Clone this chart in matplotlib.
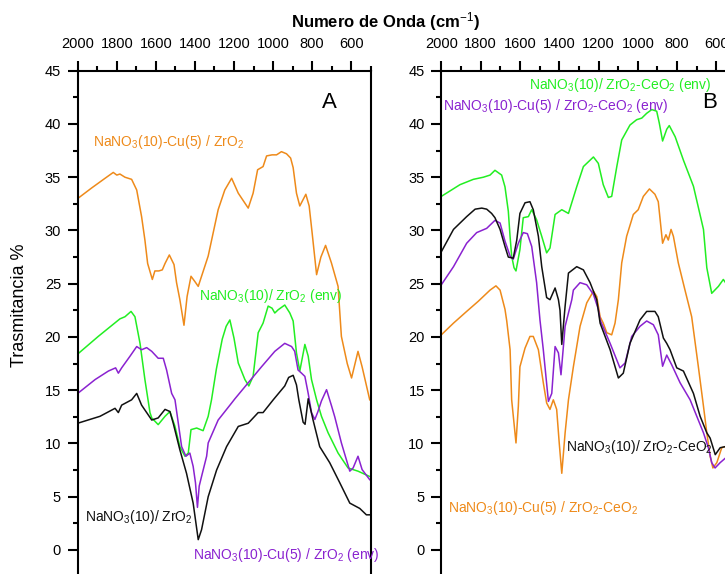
import numpy as np
import matplotlib
matplotlib.use("Agg")
import matplotlib.pyplot as plt
from matplotlib.ticker import MultipleLocator

# colours of the four samples
c_orange = "#ee8a1a"
c_green = "#22ee22"
c_purple = "#8a22d0"
c_black = "#111111"

# ---- panel A (ZrO2) ----
a_cu_w = [2000, 1928, 1860, 1818, 1800, 1784, 1758, 1724, 1698, 1673, 1656, 1642, 1618, 1605, 1585,
          1567, 1553, 1531, 1507, 1494, 1477, 1456, 1440, 1420, 1400, 1383, 1332, 1281, 1247, 1212,
          1178, 1127, 1102, 1079, 1051, 1033, 1005, 982, 957, 931, 910, 897, 880, 863, 832, 815,
          800, 777, 755, 731, 701, 667, 650, 620, 598, 565, 544, 505]
a_cu_t = [33.0, 34.0, 34.9, 35.45, 35.2, 35.3, 35.0, 34.8, 33.8, 31.3, 29.1, 26.9, 25.4, 26.2, 26.2,
          26.3, 26.9, 27.7, 26.8, 25.1, 23.5, 21.1, 23.8, 25.7, 25.2, 24.75, 27.6, 31.95, 33.8, 34.9,
          33.5, 32.1, 33.5, 35.7, 36.0, 37.0, 37.1, 37.1, 37.4, 37.2, 36.8, 35.9, 33.5, 32.3, 33.4, 32.3,
          29.8, 25.85, 27.5, 28.6, 26.95, 24.75, 20.05, 17.5, 16.15, 18.65, 17.2, 14.1]

a_env_w = [2000, 1895, 1784, 1758, 1727, 1707, 1681, 1656, 1630, 1621, 1588, 1553, 1528, 1502, 1477,
           1451, 1434, 1420, 1391, 1358, 1332, 1315, 1290, 1260, 1240, 1221, 1200, 1178, 1144, 1124,
           1102, 1076, 1051, 1025, 1005, 991, 974, 940, 914, 897, 880, 863, 837, 820, 803, 777, 752,
           718, 667, 616, 565, 505]
a_env_t = [18.4, 20.05, 21.7, 21.9, 22.4, 21.9, 19.4, 16.0, 12.9, 12.4, 11.77, 12.55, 13.0, 11.6, 9.7,
           8.8, 9.1, 11.3, 11.45, 11.2, 12.55, 14.1, 17.0, 19.8, 21.0, 21.6, 19.9, 17.55, 16.0, 15.4,
           16.3, 20.4, 21.3, 22.9, 22.7, 22.25, 22.55, 23.0, 22.25, 21.5, 18.5, 16.8, 19.3, 18.2, 16.0,
           14.1, 12.55, 11.0, 9.1, 7.7, 7.4, 6.9]

a_cuenv_w = [2000, 1911, 1843, 1806, 1792, 1775, 1732, 1698, 1673, 1647, 1621, 1588, 1562, 1545, 1519,
             1502, 1468, 1446, 1426, 1409, 1397, 1387, 1378, 1366, 1340, 1332, 1281, 1212, 1195, 1127,
             1059, 991, 940, 905, 889, 872, 854, 837, 820, 803, 786, 770, 752, 726, 700, 684, 650,
             607, 590, 565, 544, 505]
a_cuenv_t = [14.7, 16.0, 16.8, 17.1, 16.6, 17.1, 18.2, 19.1, 18.8, 19.0, 18.65, 18.0, 18.0, 16.9, 14.7,
             14.1, 9.7, 8.8, 9.1, 7.85, 6.3, 4.0, 6.0, 6.9, 8.8, 10.05, 12.2, 13.8, 14.2, 15.7,
             17.2, 18.65, 19.4, 19.1, 18.65, 16.9, 16.6, 16.3, 14.7, 12.9, 12.25, 13.0, 14.0, 15.05, 13.5,
             12.5, 10.05, 7.4, 7.7, 8.8, 7.55, 6.6]

a_base_w = [2000, 1886, 1809, 1792, 1775, 1724, 1698, 1673, 1647, 1621, 1588, 1553, 1528, 1511, 1477,
            1443, 1409, 1383, 1366, 1332, 1289, 1238, 1178, 1127, 1076, 1051, 999, 940, 920, 897,
            880, 868, 846, 836, 820, 795, 761, 710, 658, 607, 556, 522, 505]
a_base_t = [11.9, 12.55, 13.3, 12.9, 13.6, 14.1, 14.7, 13.6, 12.9, 12.2, 12.4, 13.2, 13.0, 11.9, 9.4,
            7.2, 4.4, 0.97, 1.9, 5.0, 7.5, 9.7, 11.6, 11.9, 12.9, 12.9, 14.1, 15.4, 16.2, 16.4,
            15.5, 14.1, 12.0, 11.8, 14.2, 12.2, 9.7, 8.2, 6.3, 4.4, 3.9, 3.3, 3.3]

# ---- panel B (ZrO2-CeO2) ----
b_env_w = [2000, 1905, 1837, 1786, 1752, 1727, 1693, 1676, 1659, 1650, 1642, 1630, 1620, 1600, 1583,
           1557, 1540, 1515, 1489, 1464, 1447, 1421, 1387, 1353, 1311, 1277, 1226, 1201, 1176, 1150,
           1133, 1107, 1082, 1040, 1006, 980, 955, 929, 904, 891, 874, 853, 840, 810, 768, 717, 666,
           649, 624, 590, 565, 550]
b_env_t = [33.2, 34.3, 34.8, 35.0, 35.2, 35.65, 35.2, 34.1, 31.8, 29.4, 27.6, 26.5, 26.2, 28.2, 31.2,
           31.3, 31.95, 31.0, 29.45, 27.9, 28.35, 31.5, 31.95, 31.6, 34.1, 36.0, 36.9, 36.3, 34.3, 33.1,
           33.2, 36.0, 38.5, 39.9, 40.4, 40.55, 41.0, 41.35, 41.2, 40.1, 38.4, 39.5, 39.85, 38.8, 36.6,
           34.15, 30.1, 26.5, 24.1, 24.75, 25.4, 25.0]

b_base_w = [2000, 1938, 1871, 1828, 1794, 1769, 1744, 1727, 1701, 1676, 1659, 1634, 1616, 1600, 1574,
            1549, 1532, 1506, 1489, 1464, 1447, 1421, 1404, 1396, 1387, 1370, 1353, 1311, 1277, 1243,
            1209, 1192, 1141, 1099, 1074, 1040, 989, 955, 913, 896, 870, 853, 836, 802, 768, 717, 683,
            649, 632, 606, 581, 556, 540]
b_base_t = [28.0, 30.1, 31.3, 32.0, 32.1, 32.0, 31.6, 31.2, 30.1, 28.5, 27.5, 27.4, 29.1, 31.6, 32.6,
            32.7, 31.95, 29.45, 26.6, 23.7, 23.5, 24.6, 23.5, 22.5, 19.3, 22.9, 26.0, 26.6, 26.3, 25.1,
            23.5, 21.3, 18.8, 16.15, 16.6, 19.4, 21.6, 22.4, 22.4, 21.9, 19.9, 19.4, 18.8, 17.1, 16.8,
            14.7, 12.55, 11.0, 10.5, 8.95, 9.6, 9.7, 9.7]

b_cuenv_w = [2000, 1938, 1871, 1820, 1769, 1727, 1701, 1676, 1650, 1634, 1608, 1583, 1562, 1540, 1515,
             1498, 1481, 1455, 1438, 1421, 1404, 1391, 1370, 1336, 1328, 1294, 1260, 1226, 1201, 1192,
             1141, 1091, 1065, 1031, 989, 955, 921, 896, 874, 853, 828, 785, 734, 700, 666, 641, 624,
             607, 581, 556, 540]
b_cuenv_t = [24.9, 26.6, 28.8, 29.8, 30.2, 30.95, 30.7, 29.0, 27.6, 27.3, 28.8, 29.8, 29.7, 28.5, 25.1,
             21.6, 18.8, 13.95, 14.7, 19.1, 18.5, 16.45, 21.0, 23.5, 24.4, 25.1, 24.9, 24.0, 22.6, 21.6,
             19.4, 17.1, 17.55, 20.05, 21.0, 21.5, 21.15, 20.2, 17.25, 18.3, 17.4, 15.7, 14.1, 12.55,
             11.0, 9.6, 8.2, 7.7, 8.2, 8.6, 8.8]

b_cu_w = [2000, 1938, 1871, 1812, 1752, 1722, 1701, 1676, 1667, 1650, 1642, 1620, 1608, 1600, 1574,
          1549, 1532, 1506, 1481, 1464, 1447, 1430, 1413, 1400, 1387, 1370, 1353, 1328, 1294, 1260,
          1226, 1209, 1192, 1176, 1158, 1133, 1116, 1099, 1082, 1057, 1023, 998, 972, 941, 913, 896,
          874, 857, 845, 831, 819, 794, 760, 726, 705, 692, 666, 649, 632, 618, 598, 573, 556, 540]
b_cu_t = [20.2, 21.3, 22.4, 23.35, 24.4, 24.8, 24.4, 22.6, 21.5, 18.8, 14.1, 10.05, 13.5, 17.2, 18.95,
          20.05, 20.05, 18.8, 15.7, 13.8, 13.2, 14.1, 13.2, 10.05, 7.2, 11.0, 14.1, 17.2, 21.0, 23.2,
          24.3, 23.8, 21.9, 21.3, 20.4, 20.2, 21.3, 23.5, 26.95, 29.45, 31.5, 31.95, 33.2, 33.9, 33.4,
          32.7, 28.8, 29.6, 29.1, 30.1, 29.45, 26.95, 24.4, 21.9, 19.0, 17.2, 13.5, 11.0, 8.8, 7.7,
          8.2, 9.6, 9.7, 9.7]

label_font = "Liberation Sans"
tick_font = "Liberation Sans"
plt.rcParams["mathtext.fontset"] = "custom"
plt.rcParams["mathtext.rm"] = "Liberation Sans"
plt.rcParams["mathtext.it"] = "Liberation Sans:italic"
plt.rcParams["mathtext.bf"] = "Liberation Sans:bold"

fig = plt.figure(figsize=(7.25, 5.74), dpi=100)
ax_a = fig.add_axes([0.1072, -0.0138, 0.4041, 0.8906])
ax_b = fig.add_axes([0.6087, -0.0138, 0.4066, 0.8906])


def style_axis(ax):
    ax.set_xlim(2000, 500)
    ax.set_ylim(-3, 45)
    ax.xaxis.set_major_locator(MultipleLocator(200))
    ax.xaxis.set_minor_locator(MultipleLocator(100))
    ax.yaxis.set_major_locator(MultipleLocator(5))
    ax.yaxis.set_minor_locator(MultipleLocator(2.5))
    ax.xaxis.tick_top()
    ax.tick_params(which="both", direction="out", width=1.5, top=True, bottom=False,
                   left=True, right=False, labelsize=10.5)
    ax.tick_params(which="major", length=7, pad=5)
    ax.tick_params(which="minor", length=3.5)
    ax.tick_params(axis="x", which="major", pad=7)
    for lab in ax.get_xticklabels() + ax.get_yticklabels():
        lab.set_fontfamily(tick_font)
    for s in ax.spines.values():
        s.set_linewidth(1.5)


style_axis(ax_a)
style_axis(ax_b)

lw = 1.1
ax_a.plot(a_cu_w, a_cu_t, color=c_orange, lw=lw)
ax_a.plot(a_env_w, a_env_t, color=c_green, lw=lw)
ax_a.plot(a_cuenv_w, a_cuenv_t, color=c_purple, lw=lw)
ax_a.plot(a_base_w, a_base_t, color=c_black, lw=lw)

ax_b.plot(b_env_w, b_env_t, color=c_green, lw=lw)
ax_b.plot(b_cu_w, b_cu_t, color=c_orange, lw=lw)
ax_b.plot(b_cuenv_w, b_cuenv_t, color=c_purple, lw=lw)
ax_b.plot(b_base_w, b_base_t, color=c_black, lw=lw)

fs = 10
kw = dict(fontsize=fs, family=label_font, va="center", ha="left")
ax_a.text(1923, 38.3, "NaNO$_3$(10)-Cu(5) / ZrO$_2$", color=c_orange, **kw)
ax_a.text(1380, 23.8, "NaNO$_3$(10)/ ZrO$_2$ (env)", color=c_green, **kw)
ax_a.text(1963, 3.1, "NaNO$_3$(10)/ ZrO$_2$", color=c_black, **kw)
ax_a.text(1412, -0.45, "NaNO$_3$(10)-Cu(5) / ZrO$_2$ (env)", color=c_purple, **kw)
ax_a.text(709, 42.0, "A", fontsize=16, family=label_font, va="center", ha="center")

ax_b.text(1554, 43.7, "NaNO$_3$(10)/ ZrO$_2$-CeO$_2$ (env)", color=c_green, **kw)
ax_b.text(1993, 41.7, "NaNO$_3$(10)-Cu(5) / ZrO$_2$-CeO$_2$ (env)", color=c_purple, **kw)
ax_b.text(1365, 9.7, "NaNO$_3$(10)/ ZrO$_2$-CeO$_2$", color=c_black, **kw)
ax_b.text(1964, 3.9, "NaNO$_3$(10)-Cu(5) / ZrO$_2$-CeO$_2$", color=c_orange, **kw)
ax_b.text(633, 42.0, "B", fontsize=16, family=label_font, va="center", ha="center")

fig.text(385 / 725, 1 - 22 / 574, "Numero de Onda (cm$^{-1}$)", fontsize=12,
         family=label_font, fontweight="bold", ha="center", va="center")
fig.text(20 / 725, 1 - 305 / 574, "Trasmitancia %", fontsize=13, family=label_font,
         rotation=90, ha="center", va="center")

fig.savefig("out.png", dpi=100)
